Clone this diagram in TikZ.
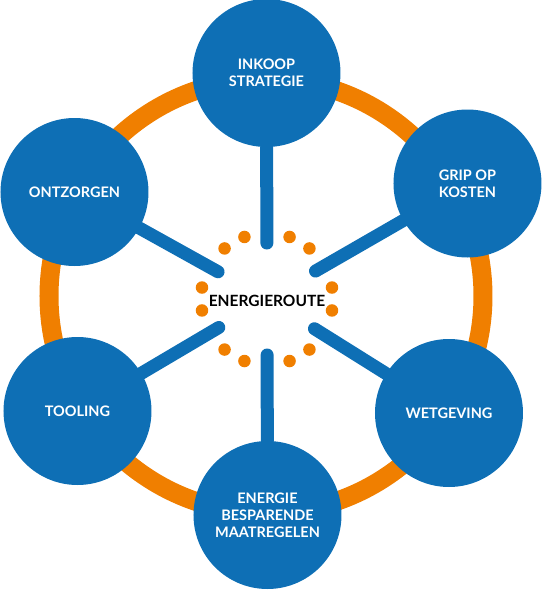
\documentclass[tikz,border=0pt]{standalone}
\usepackage{fontspec}
\setmainfont{Lato}
\usetikzlibrary{calc,backgrounds}
\definecolor{routeblue}{RGB}{14,111,181}
\definecolor{routeorange}{RGB}{240,127,0}
\begin{document}
\begin{tikzpicture}[
    x=1pt, y=1pt,
    topic/.style={circle, fill=routeblue, text=white, minimum size=148pt, inner sep=0pt,
      align=center, font=\fontsize{14.5}{16.8}\selectfont\bfseries},
    spoke/.style={draw=routeblue, line width=13pt, line cap=round},
    dot/.style={circle, fill=routeorange, minimum size=12.5pt, inner sep=0pt},
    hub/.style={font=\fontsize{15.5}{18}\selectfont\bfseries},
  ]
    \useasboundingbox (-267,-291) rectangle (275,299);
    \coordinate (hub) at (0,0);
    \node[hub] (route) at (0,-2) {ENERGIEROUTE};
    \node[topic] (inkoop) at (-0.5,226) {INKOOP\\STRATEGIE};
    \node[topic] (grip) at (200.5,115.5) {GRIP OP\\KOSTEN};
    \node[topic] (wet) at (182,-114) {WETGEVING};
    \node[topic] (besparen) at (0.5,-216) {ENERGIE\\BESPARENDE\\MAATREGELEN};
    \node[topic] (tooling) at (-189.5,-112) {TOOLING};
    \node[topic] (ontzorgen) at (-192.5,107) {ONTZORGEN};
    % dotted ring round the hub
    \foreach \a in {10,50,70,110,130,170,190,230,250,290,310,350}
      \node[dot] (dot\a) at (\a:66) {};
    \begin{scope}[on background layer]
      \draw[routeorange, line width=19pt] (-1,3) circle (217);
      \foreach \c in {inkoop,grip,wet,besparen,tooling,ontzorgen}
        \draw[spoke] ($(hub)!56pt!(\c)$) -- (\c);
    \end{scope}
\end{tikzpicture}
\end{document}
